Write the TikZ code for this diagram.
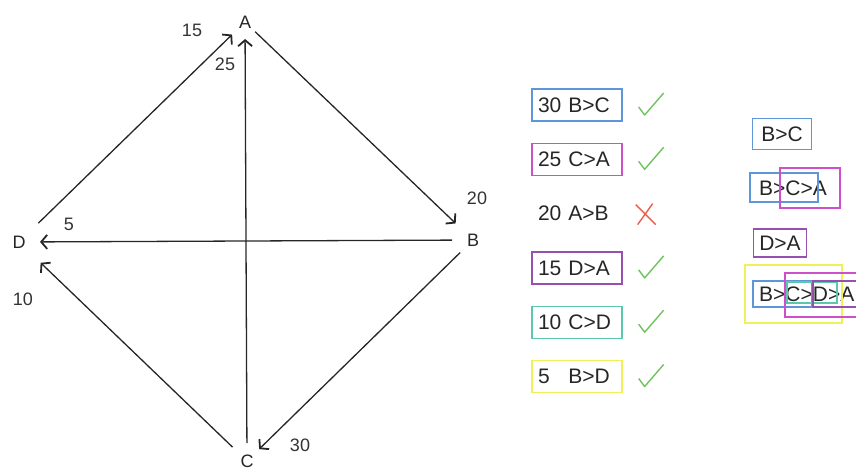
\documentclass[tikz,border=0pt]{standalone}
\usepackage{fontspec}
\setmainfont{Liberation Sans}
\usepackage{xcolor}
\usetikzlibrary{arrows.meta,positioning}

\definecolor{boxblue}{RGB}{95,150,215}
\definecolor{boxmag}{RGB}{205,80,200}
\definecolor{boxpurple}{RGB}{150,80,175}
\definecolor{boxteal}{RGB}{90,200,170}
\definecolor{boxyellow}{RGB}{240,240,90}
\definecolor{okgreen}{RGB}{110,195,95}
\definecolor{badred}{RGB}{230,95,75}

\tikzset{
  okmark/.pic={\draw[okgreen, line width=1.4pt, line join=round] (-12,2) -- (-6,10) -- (13,-12);},
  badmark/.pic={\draw[badred, line width=1.4pt] (-10,-9) -- (10,11) (7,-10) -- (-8,11);}
}

\begin{document}
\begin{tikzpicture}[x=1pt, y=-1pt,
  vertex/.style={inner sep=0pt, font=\fontsize{18}{18}\selectfont, text=black!85},
  weight/.style={inner sep=0pt, font=\fontsize{18}{18}\selectfont, text=black!80},
  edge/.style={-{Straight Barb[length=6pt,width=14pt,line width=1.8pt]}, line width=1.3pt, black!85},
  rowbox/.style={line width=1.3pt, minimum height=32pt, text width=78pt, inner xsep=6pt, inner ysep=0pt, align=left, font=\fontsize{21}{21}\selectfont, text=black!85},
  chain/.style={anchor=west, inner sep=0pt, font=\fontsize{21}{21}\selectfont, text=black!85},
  frame/.style={line width=1.3pt}
]
\clip (0,0) rectangle (856,472);

% graph
\node[vertex] (A) at (245,22) {A};
\node[vertex] (B) at (473,240) {B};
\node[vertex] (C) at (247,461) {C};
\node[vertex] (D) at (19,242) {D};

\draw[edge, shorten <=27pt, shorten >=18pt] (D.center) -- (A.center);
\draw[edge, shorten <=18pt, shorten >=17pt] (C.center) -- (A.center);
\draw[edge, shorten <=14pt, shorten >=24pt] (A.center) -- (B.center);
\draw[edge, shorten <=21pt, shorten >=21pt] (B.center) -- (D.center);
\draw[edge, shorten <=20pt, shorten >=30pt] (C.center) -- (D.center);
\draw[edge, shorten <=18pt, shorten >=17pt] (B.center) -- (C.center);

\node[weight] (w15) at (192,30) {15};
\node[weight] (w25) at (225,64) {25};
\node[weight] (w20) at (477,198) {20};
\node[weight] (w5) at (69,224) {5};
\node[weight] (w10) at (23,299) {10};
\node[weight] (w30) at (300,445) {30};

% sorted edges
\node[rowbox, draw=boxblue] (r30) at (577,105) {30 B>C};
\node[rowbox, draw=boxmag, below=21pt of r30] (r25) {25 C>A};
\node[rowbox, below=21pt of r25] (r20) {20 A>B};
\node[rowbox, draw=boxpurple, below=21pt of r20] (r15) {15 D>A};
\node[rowbox, draw=boxteal, below=21pt of r15] (r10) {10 C>D};
\node[rowbox, draw=boxyellow, below=21pt of r10] (r5) {5\phantom{0} B>D};

\pic at ([xshift=28pt]r30.east) {okmark};
\pic at ([xshift=28pt]r25.east) {okmark};
\pic at ([xshift=23pt]r20.east) {badmark};
\pic at ([xshift=28pt]r15.east) {okmark};
\pic at ([xshift=28pt]r10.east) {okmark};
\pic at ([xshift=28pt]r5.east) {okmark};

% chains
\node[draw=boxblue, line width=1.3pt, inner xsep=9pt, minimum height=31pt, font=\fontsize{21}{21}\selectfont, text=black!85] (s1) at (782,134) {B>C};
\node[chain] (s2) at (759,188) {B>C>A};
\draw[frame, boxblue] (750,173) rectangle (818,202);
\draw[frame, boxmag] (780,168) rectangle (840,208);
\node[draw=boxpurple, line width=1.3pt, inner xsep=6pt, minimum height=28pt, font=\fontsize{21}{21}\selectfont, text=black!85] (s3) at (780,243) {D>A};
\node[chain] (s4) at (759,294) {B>C>D>A};
\draw[frame, boxyellow] (745,265) rectangle (842,323);
\draw[frame, boxblue] (753,281) rectangle (812,307);
\draw[frame, boxmag] (785,273) rectangle (870,317);
\draw[frame, boxteal] (787,282) rectangle (837,303);
\draw[frame, boxpurple] (813,281) rectangle (870,307);
\end{tikzpicture}
\end{document}
